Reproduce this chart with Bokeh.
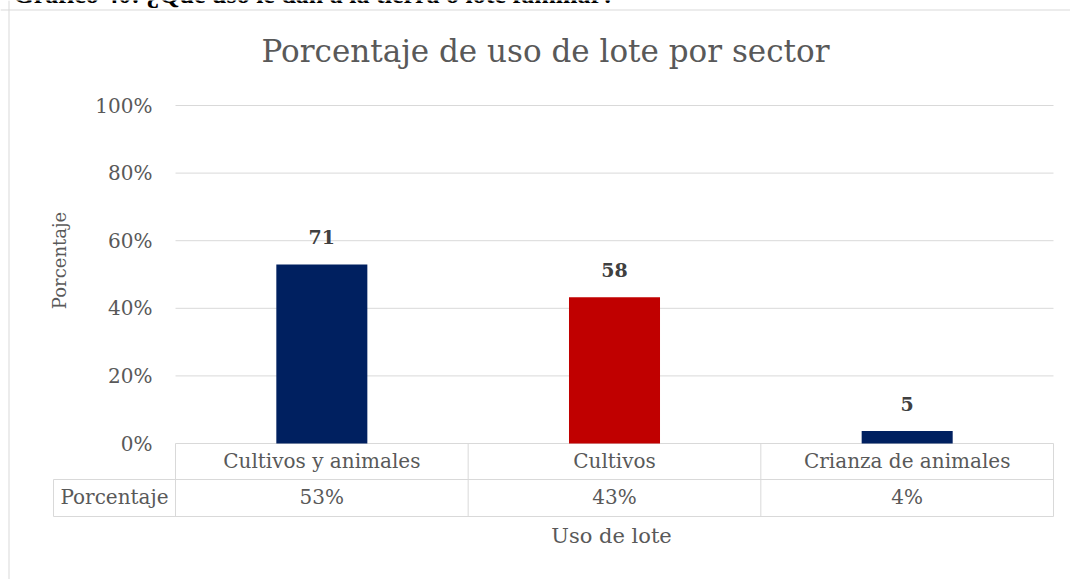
from bokeh.plotting import figure
from bokeh.models import Range1d, Span
from bokeh.core.properties import value
from bokeh.embed import file_html
from bokeh.resources import INLINE
import math

# ---------------- data ----------------
categorias = ["Cultivos y animales", "Cultivos", "Crianza de animales"]
conteos = [71, 58, 5]
colores = ["#002060", "#C00000", "#002060"]
ticks_y = [0, 20, 40, 60, 80, 100]
ticks_etiquetas = ["0%", "20%", "40%", "60%", "80%", "100%"]
titulo = "Porcentaje de uso de lote por sector"
titulo_y = "Porcentaje"
titulo_x = "Uso de lote"
fila_tabla = "Porcentaje"
leyenda_grafico = "Gráfico 40: ¿Qué uso le dan a la tierra o lote familiar?"

total = sum(conteos)
porcentajes = [c / total * 100 for c in conteos]
etiquetas_pct = [f"{round(v)}%" for v in porcentajes]
etiquetas_conteo = [str(c) for c in conteos]
xs = [i + 0.5 for i in range(len(categorias))]
limites = list(range(len(categorias) + 1))

# ---------------- layout ----------------
W, H = 1070, 579
X0, PX_CAT = 175.0, 292.67     # page x of category boundary 0, px per category
Y0, PX_PCT = 443.0, 3.38       # page y of 0 %, px per percent


def X(px):
    return (px - X0) / PX_CAT


def Y(py):
    return (Y0 - py) / PX_PCT


FONT = value("DejaVu Serif")
GRAY = "#595959"
LINE = "#d9d9d9"

p = figure(width=W, height=H, output_backend="svg", toolbar_location=None,
           x_range=Range1d(X(0), X(W)), y_range=Range1d(Y(H), Y(0)),
           x_axis_location=None, y_axis_location=None, min_border=0,
           outline_line_color=None, background_fill_color="white",
           border_fill_color="white")
p.xgrid.visible = False
p.ygrid.visible = False

# chart area border (left / top)
p.add_layout(Span(location=X(8.5), dimension="height", line_color=LINE, line_width=1))
p.add_layout(Span(location=Y(9.5), dimension="width", line_color=LINE, line_width=1))

# caption of the document, cut off at the top as in the source
p.text(x=[X(13)], y=[Y(-6.5)], text=[leyenda_grafico], text_align="left",
       text_baseline="middle", text_font=value("Liberation Serif"),
       text_font_size="26px", text_font_style="bold", text_color="#000000")

# gridlines
n = len(categorias)
p.segment(x0=[0] * len(ticks_y), x1=[n] * len(ticks_y), y0=ticks_y, y1=ticks_y,
          line_color=LINE, line_width=1)

# bars
p.vbar(x=xs, top=porcentajes, bottom=0, width=0.311, fill_color=colores, line_color=None)

# data labels
p.text(x=xs, y=porcentajes, text=etiquetas_conteo, y_offset=-27,
       text_align="center", text_baseline="middle", text_font=FONT,
       text_font_size="19px", text_font_style="bold", text_color="#404040")

# y tick labels
p.text(x=[X(152)] * len(ticks_y), y=ticks_y, text=ticks_etiquetas,
       text_align="right", text_baseline="middle", text_font=FONT,
       text_font_size="20px", text_color=GRAY)

# data table lines
p.segment(x0=limites, x1=limites, y0=[Y(443)] * len(limites), y1=[Y(516)] * len(limites),
          line_color=LINE, line_width=1)
p.segment(x0=[X(53), X(53), X(53)], x1=[X(53), n, n],
          y0=[Y(479), Y(479), Y(516)], y1=[Y(516), Y(479), Y(516)],
          line_color=LINE, line_width=1)

# data table texts
p.text(x=xs, y=[Y(460.5)] * n, text=categorias, text_align="center",
       text_baseline="middle", text_font=FONT, text_font_size="20px", text_color=GRAY)
p.text(x=xs, y=[Y(496.5)] * n, text=etiquetas_pct, text_align="center",
       text_baseline="middle", text_font=FONT, text_font_size="20px", text_color=GRAY)
p.text(x=[X(114)], y=[Y(496.5)], text=[fila_tabla], text_align="center",
       text_baseline="middle", text_font=FONT, text_font_size="20px", text_color=GRAY)

# titles
p.text(x=[X(545)], y=[Y(50.5)], text=[titulo], text_align="center",
       text_baseline="middle", text_font=FONT, text_font_size="31px", text_color=GRAY)
p.text(x=[X(611)], y=[Y(535.5)], text=[titulo_x], text_align="center",
       text_baseline="middle", text_font=FONT, text_font_size="21px", text_color=GRAY)
p.text(x=[X(59)], y=[Y(260)], text=[titulo_y], angle=math.pi / 2, text_align="center",
       text_baseline="middle", text_font=FONT, text_font_size="18px", text_color=GRAY)

open("out.html", "w").write(file_html(p, INLINE))
